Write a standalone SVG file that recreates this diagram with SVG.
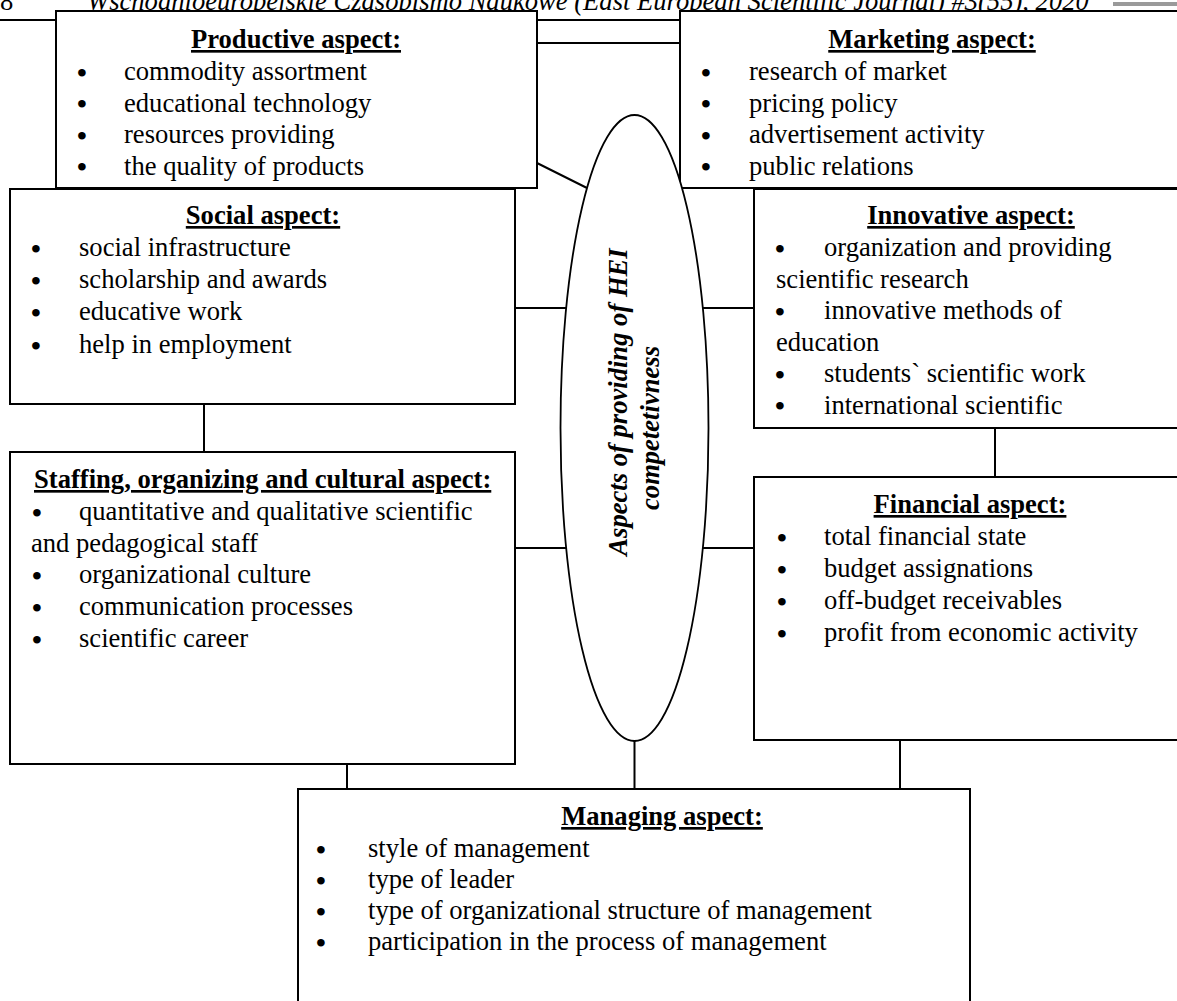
<svg xmlns="http://www.w3.org/2000/svg" width="1177" height="1001" viewBox="0 0 1177 1001">
<style>
.box{fill:#fff;stroke:#000;stroke-width:2}
.t{font-family:"Liberation Serif","Times New Roman",serif;font-size:26.6px;fill:#000}
.h{font-weight:bold;text-decoration:underline;text-anchor:middle}
.hl{font-weight:bold;text-decoration:underline}
.b{font-size:28px;font-weight:bold}
.e{font-weight:bold;font-style:italic;text-anchor:middle}
.c{stroke:#000;stroke-width:2;fill:none}
.ell{fill:#fff;stroke:#000;stroke-width:1.8}
</style>
<defs>
<clipPath id="topclip"><rect x="0" y="0" width="1177" height="181"/></clipPath>
</defs>
<g id="header">
<text class="t" x="0" y="10">8</text>
<text class="t" x="87" y="10" font-style="italic">Wschodnioeuropejskie Czasopismo Naukowe (East European Scientific Journal) #3(55), 2020</text>
<line class="c" x1="0" y1="20" x2="1177" y2="20"/>
<rect x="1113" y="2" width="64" height="4" fill="#9a9a9a"/>
</g>
<g id="connectors">
<path class="c" d="M537 43 H680"/>
<path class="c" d="M537 163 L587 188"/>
<path class="c" d="M515 308 H566"/>
<path class="c" d="M703 308 H754"/>
<path class="c" d="M515 548 H566"/>
<path class="c" d="M703 548 H754"/>
<path class="c" d="M204 404 V452"/>
<path class="c" d="M995 428 V477"/>
<path class="c" d="M347 764 V789"/>
<path class="c" d="M634.5 741 V789"/>
<path class="c" d="M900 740 V789"/>
</g>
<g id="productive">
<rect class="box" x="56" y="11" width="481" height="177"/>
<text class="t h" x="296" y="48">Productive aspect:</text>
<g clip-path="url(#topclip)">
<text class="t b" x="77" y="81.5">•</text><text class="t" x="124" y="80">commodity assortment</text>
<text class="t b" x="77" y="113">•</text><text class="t" x="124" y="111.5">educational technology</text>
<text class="t b" x="77" y="144.5">•</text><text class="t" x="124" y="143">resources providing</text>
<text class="t b" x="77" y="176">•</text><text class="t" x="124" y="174.5">the quality of products</text>
</g>
</g>
<g id="marketing">
<rect class="box" x="680" y="11" width="505" height="177"/>
<text class="t h" x="932" y="48">Marketing aspect:</text>
<g clip-path="url(#topclip)">
<text class="t b" x="701" y="81.5">•</text><text class="t" x="749" y="80">research of market</text>
<text class="t b" x="701" y="113">•</text><text class="t" x="749" y="111.5">pricing policy</text>
<text class="t b" x="701" y="144.5">•</text><text class="t" x="749" y="143">advertisement activity</text>
<text class="t b" x="701" y="176">•</text><text class="t" x="749" y="174.5">public relations</text>
</g>
</g>
<g id="social">
<rect class="box" x="10" y="189" width="505" height="215"/>
<text class="t h" x="263" y="224">Social aspect:</text>
<text class="t b" x="31" y="257.5">•</text><text class="t" x="79" y="256">social infrastructure</text>
<text class="t b" x="31" y="289.5">•</text><text class="t" x="79" y="288">scholarship and awards</text>
<text class="t b" x="31" y="321.5">•</text><text class="t" x="79" y="320">educative work</text>
<text class="t b" x="31" y="354.5">•</text><text class="t" x="79" y="353">help in employment</text>
</g>
<g id="innovative">
<rect class="box" x="754" y="189" width="431" height="239"/>
<text class="t h" x="971" y="224">Innovative aspect:</text>
<text class="t b" x="775" y="257.5">•</text><text class="t" x="824" y="256">organization and providing</text>
<text class="t" x="776" y="287.5">scientific research</text>
<text class="t b" x="775" y="320.5">•</text><text class="t" x="824" y="319">innovative methods of</text>
<text class="t" x="776" y="350.5">education</text>
<text class="t b" x="775" y="383.5">•</text><text class="t" x="824" y="382">students` scientific work</text>
<text class="t b" x="775" y="415">•</text><text class="t" x="824" y="413.5">international scientific</text>
</g>
<g id="staffing">
<rect class="box" x="10" y="452" width="505" height="312"/>
<text class="t hl" x="34" y="488">Staffing, organizing and cultural aspect:</text>
<text class="t b" x="32" y="521.5">•</text><text class="t" x="79" y="520">quantitative and qualitative scientific</text>
<text class="t" x="31" y="551.5">and pedagogical staff</text>
<text class="t b" x="32" y="584.5">•</text><text class="t" x="79" y="583">organizational culture</text>
<text class="t b" x="32" y="616.5">•</text><text class="t" x="79" y="615">communication processes</text>
<text class="t b" x="32" y="648.5">•</text><text class="t" x="79" y="647">scientific career</text>
</g>
<g id="financial">
<rect class="box" x="754" y="477" width="431" height="263"/>
<text class="t h" x="970" y="513">Financial aspect:</text>
<text class="t b" x="777" y="546.5">•</text><text class="t" x="824" y="545">total financial state</text>
<text class="t b" x="777" y="578.5">•</text><text class="t" x="824" y="577">budget assignations</text>
<text class="t b" x="777" y="610.5">•</text><text class="t" x="824" y="609">off-budget receivables</text>
<text class="t b" x="777" y="642.5">•</text><text class="t" x="824" y="641">profit from economic activity</text>
</g>
<g id="managing">
<rect class="box" x="298" y="789" width="672" height="230"/>
<text class="t h" x="662" y="825">Managing aspect:</text>
<text class="t b" x="316" y="858.5">•</text><text class="t" x="368" y="857">style of management</text>
<text class="t b" x="316" y="889.5">•</text><text class="t" x="368" y="888">type of leader</text>
<text class="t b" x="316" y="920.5">•</text><text class="t" x="368" y="919">type of organizational structure of management</text>
<text class="t b" x="316" y="951.5">•</text><text class="t" x="368" y="950">participation in the process of management</text>
</g>
<g id="center">
<ellipse class="ell" cx="634.5" cy="428" rx="74" ry="313"/>
<text class="t e" transform="translate(627,402) rotate(-90)">Aspects of providing of HEI</text>
<text class="t e" transform="translate(659,428) rotate(-90)">competetivness</text>
</g>
</svg>
